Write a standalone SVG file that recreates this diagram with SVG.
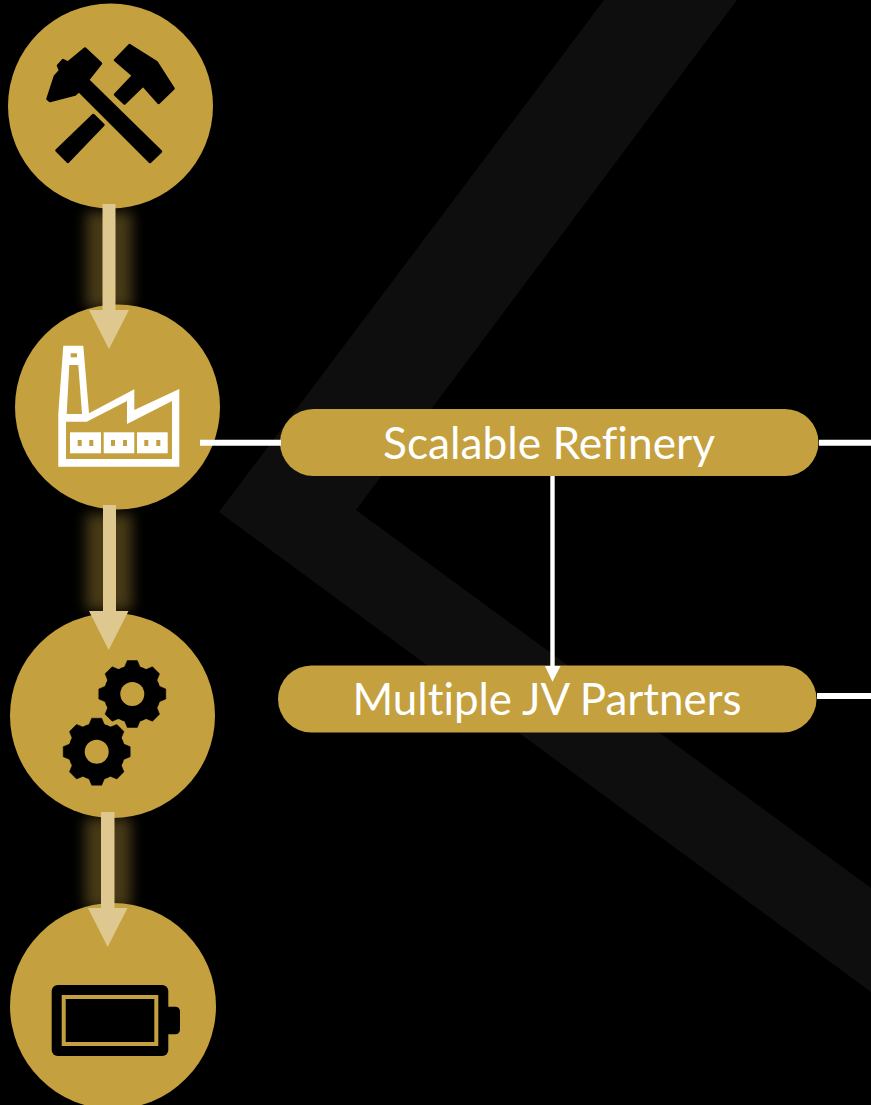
<svg xmlns="http://www.w3.org/2000/svg" width="871" height="1105" viewBox="0 0 871 1105">
<style>
.gold{fill:#c4a03f}
.blk{fill:#000}
.wht{fill:#fff}
.arrow{fill:#dfc88f}
.glow{fill:#c4a03f;opacity:.36;filter:url(#blur)}
.line{stroke:#fff;fill:none}
.label{font-family:"Lato","Carlito","Open Sans",sans-serif;font-size:44px;fill:#fff;font-variant-ligatures:none}
</style>
<defs>
<filter id="blur" x="-100%" y="-30%" width="300%" height="160%"><feGaussianBlur stdDeviation="6.5"/></filter>
<g id="gear">
<circle r="28.5" class="blk"/>
<polygon id="tooth" class="blk" points="-5,-33.5 5,-33.5 9,-24 -9,-24" stroke="#000" stroke-width="0.5" stroke-linejoin="round"/>
<use href="#tooth" transform="rotate(45)"/>
<use href="#tooth" transform="rotate(90)"/>
<use href="#tooth" transform="rotate(135)"/>
<use href="#tooth" transform="rotate(180)"/>
<use href="#tooth" transform="rotate(225)"/>
<use href="#tooth" transform="rotate(270)"/>
<use href="#tooth" transform="rotate(315)"/>
<circle r="12" class="gold"/>
</g>
</defs>
<rect width="871" height="1105" fill="#000"/>
<polygon id="background-mark" fill="#0e0e0e" points="604,0 737,0 356,510 871,888 871,992 219,512"/>

<g id="node-mining">
<circle class="gold" cx="110.5" cy="106" r="102.5"/>
<g class="blk" stroke="#000" stroke-width="2.5" stroke-linejoin="round">
<polygon points="89,81 161,151.5 150,162 79,91"/>
<polygon points="85,48.5 101,63.5 88,80 79,91 75,94.5 50,101 47.5,99 55,76 60,70.5 58,65.5 63,60 68,62.5"/>
<polygon points="93.3,115 103.5,125 68,162 56.5,150.5"/>
<polygon points="133,75.5 143,85.5 124.5,103.5 115,94.5"/>
<polygon points="129.5,45 115,60 133,75.5 143,85.5 158.5,103 173.5,88.5 156.5,62"/>
</g>
</g>

<g id="node-refinery">
<circle class="gold" cx="117.5" cy="407" r="102.5"/>
<polygon class="wht" points="63.3,345.7 83.3,345.7 89,413.3 134.3,389.3 134.3,410 179.3,389 179.3,466.7 58.3,466.7 58.3,413.3"/>
<polygon class="gold" points="66,421.7 86.7,421.7 127,401 127,424 172,401 172,459 66,459"/>
<polygon class="gold" points="69.3,365 78.3,365 82,414 66.7,414"/>
<rect class="gold" x="70.7" y="353.3" width="6.3" height="4"/>
<g class="wht">
<rect x="70" y="432.3" width="31" height="21"/>
<rect x="103.7" y="432.3" width="30.6" height="21"/>
<rect x="137" y="432.3" width="30.7" height="21"/>
</g>
<g class="gold">
<rect x="77.7" y="440" width="4" height="6"/>
<rect x="89.3" y="440" width="4" height="6"/>
<rect x="111" y="440" width="4" height="6"/>
<rect x="123" y="440" width="4" height="6"/>
<rect x="144.3" y="440" width="4" height="6"/>
<rect x="156.3" y="440" width="4" height="6"/>
</g>
</g>

<g id="node-gears">
<circle class="gold" cx="112.5" cy="715.5" r="102.5"/>
<use href="#gear" x="132.3" y="694"/>
<use href="#gear" x="96.7" y="751.7"/>
</g>

<g id="node-battery">
<circle class="gold" cx="113" cy="1006" r="103"/>
<rect class="blk" x="51.7" y="985" width="116.6" height="71" rx="6"/>
<path class="blk" d="M165 1006.7h10.5a4.5 4.5 0 0 1 4.5 4.5v18.6a4.5 4.5 0 0 1-4.5 4.5H165z"/>
<rect x="63.7" y="997" width="92.6" height="47" fill="#000" stroke="#c4a03f" stroke-width="4"/>
</g>

<g id="node-scalable-refinery">
<rect class="gold" x="280" y="409" width="538.5" height="67" rx="33.5"/>
<text class="label" x="383" y="459" textLength="332" lengthAdjust="spacingAndGlyphs">Scalable Refinery</text>
</g>

<g id="node-jv-partners">
<rect class="gold" x="278" y="665.5" width="538.5" height="67" rx="33.5"/>
<text class="label" x="352.5" y="714.5" textLength="389" lengthAdjust="spacingAndGlyphs">Multiple JV Partners</text>
</g>

<g id="connectors">
<rect class="glow" x="86" y="212" width="46" height="96"/>
<rect class="glow" x="86" y="514" width="46" height="96"/>
<rect class="glow" x="85" y="818" width="46" height="90"/>
<polygon class="arrow" points="102.5,204 115.5,204 115.5,310 129,310 109,349 89,310 102.5,310"/>
<polygon class="arrow" points="103,505 116,505 116,611 128.5,611 108.7,650 89,611 103,611"/>
<polygon class="arrow" points="101,812 114.5,812 114.5,908 127.5,908 107.7,947 88,908 101,908"/>
<path class="line" stroke-width="6" d="M200 442.7H281M819 442.7H871M817 696H871"/>
<path class="line" stroke-width="4.4" d="M552.5 476V670"/>
<polygon class="wht" points="545,666 560.5,666 552.5,681.7"/>
</g>
</svg>
